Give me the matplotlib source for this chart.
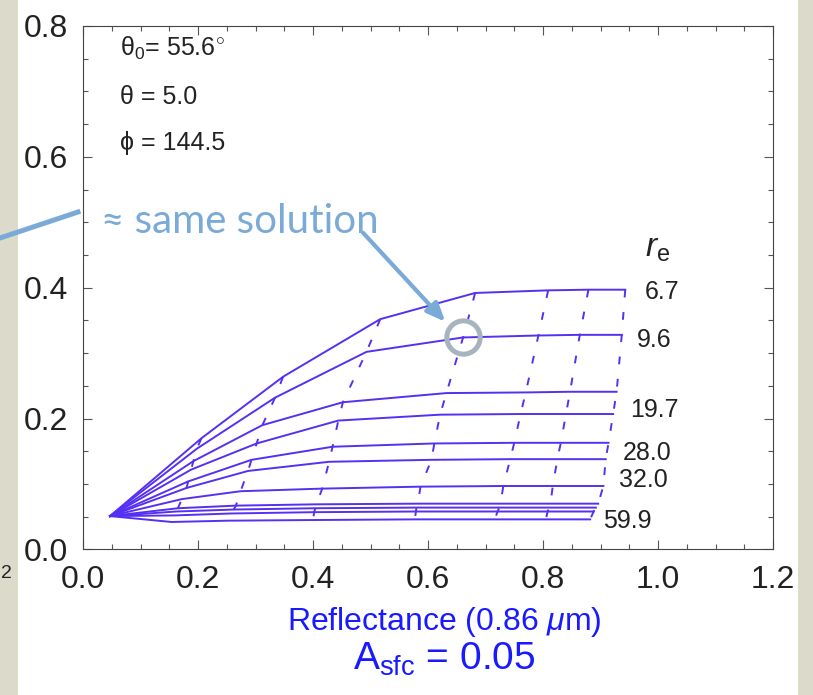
import numpy as np
import matplotlib
matplotlib.use('Agg')
import matplotlib.pyplot as plt
from matplotlib.lines import Line2D
from matplotlib.patches import Rectangle
from matplotlib.ticker import MultipleLocator

plt.rcParams['font.family'] = ['Liberation Sans', 'DejaVu Sans']
plt.rcParams['mathtext.fontset'] = 'custom'
plt.rcParams['mathtext.rm'] = 'Liberation Sans'
plt.rcParams['mathtext.it'] = 'Liberation Sans:italic'
plt.rcParams['mathtext.bf'] = 'Liberation Sans:bold'

# LUT: rows = r_e curves (small -> large), columns = optical thickness nodes
refl_086 = np.array([
    [0.047, 0.206, 0.348, 0.517, 0.682, 0.809, 0.879, 0.943],
    [0.047, 0.198, 0.334, 0.493, 0.661, 0.792, 0.864, 0.937],
    [0.047, 0.192, 0.312, 0.452, 0.632, 0.770, 0.847, 0.928],
    [0.047, 0.188, 0.302, 0.444, 0.621, 0.761, 0.840, 0.922],
    [0.047, 0.183, 0.293, 0.434, 0.611, 0.750, 0.831, 0.914],
    [0.047, 0.180, 0.287, 0.428, 0.606, 0.743, 0.825, 0.909],
    [0.047, 0.172, 0.274, 0.416, 0.587, 0.731, 0.817, 0.905],
    [0.047, 0.165, 0.266, 0.406, 0.582, 0.726, 0.813, 0.896],
    [0.047, 0.162, 0.262, 0.404, 0.580, 0.724, 0.811, 0.892],
    [0.047, 0.158, 0.258, 0.402, 0.579, 0.721, 0.808, 0.888],
    [0.047, 0.154, 0.252, 0.400, 0.577, 0.716, 0.805, 0.882],
])
refl_21 = np.array([
    [0.051, 0.170, 0.264, 0.352, 0.392, 0.396, 0.397, 0.397],
    [0.051, 0.154, 0.232, 0.302, 0.324, 0.327, 0.328, 0.328],
    [0.051, 0.135, 0.190, 0.225, 0.239, 0.240, 0.241, 0.241],
    [0.051, 0.122, 0.162, 0.197, 0.206, 0.207, 0.207, 0.207],
    [0.051, 0.104, 0.137, 0.157, 0.162, 0.163, 0.163, 0.163],
    [0.051, 0.094, 0.120, 0.134, 0.137, 0.138, 0.138, 0.138],
    [0.051, 0.077, 0.089, 0.093, 0.096, 0.097, 0.097, 0.097],
    [0.051, 0.063, 0.067, 0.069, 0.070, 0.070, 0.070, 0.070],
    [0.051, 0.058, 0.061, 0.063, 0.064, 0.064, 0.064, 0.064],
    [0.051, 0.052, 0.055, 0.057, 0.058, 0.058, 0.058, 0.058],
    [0.051, 0.042, 0.044, 0.045, 0.046, 0.046, 0.046, 0.046],
])

re_labels = ['6.7', '9.6', '19.7', '28.0', '32.0', '59.9']
re_label_rows = [0, 1, 3, 4, 6, 10]
re_label_offsets = [(14, -2), (11, -4), (12, 3), (10, -7), (11, 4), (9, -1)]

geometry = [r'θ$_0$= 55.6$^{\circ}$', 'θ = 5.0', 'ϕ = 144.5']
geometry_y = [0.958, 0.864, 0.776]

BG = '#dcdbcb'
LINE = '#5530f2'
NOTE = '#7aaad8'
BLUE = '#1a1aff'

fig = plt.figure(figsize=(8.13, 6.95), dpi=100)
fig.patch.set_facecolor(BG)
fig.add_artist(Rectangle((18 / 813, 0), 780 / 813, 1, transform=fig.transFigure,
                         facecolor='white', edgecolor='none', zorder=-10))

ax = fig.add_axes([0.1021, 0.2094, 0.8487, 0.7532])

# solid lines: constant r_e
for i in range(refl_086.shape[0]):
    ax.plot(refl_086[i], refl_21[i], color=LINE, lw=1.4)
# dashed lines: constant tau
for j in range(1, refl_086.shape[1]):
    ax.plot(refl_086[:, j], refl_21[:, j], color=LINE, lw=1.4, linestyle=(0, (4, 7.5)))

for lab, row, off in zip(re_labels, re_label_rows, re_label_offsets):
    ax.annotate(lab, xy=(refl_086[row, -1], refl_21[row, -1]), xytext=off,
                textcoords='offset points', fontsize=18, va='center', ha='left', color='#222')
ax.text(0.977, 0.460, r'$r_{\rm e}$', fontsize=24, va='center', color='#222')

for s, yy in zip(geometry, geometry_y):
    ax.text(0.054, yy, s, transform=ax.transAxes, fontsize=18, va='center', color='#222')

ax.set_xlim(0, 1.2)
ax.set_ylim(0, 0.8)
ax.xaxis.set_major_locator(MultipleLocator(0.2))
ax.xaxis.set_minor_locator(MultipleLocator(0.05))
ax.yaxis.set_major_locator(MultipleLocator(0.2))
ax.yaxis.set_minor_locator(MultipleLocator(0.05))
ax.tick_params(which='both', direction='in', top=True, right=True, color='#555', width=0.8)
ax.tick_params(which='major', length=6.5, labelsize=23, pad=11, labelcolor='#222')
ax.tick_params(which='minor', length=3.6)
for sp in ax.spines.values():
    sp.set_color('#444')
    sp.set_linewidth(0.8)

# "same solution" annotation
ax.plot(refl_086[1, 4], refl_21[1, 4], 'o', ms=24, mfc='none', mec='#a5b4bd', mew=3.6, zorder=5)
ax.annotate('', xy=(0.630, 0.348), xytext=(0.487, 0.484),
            arrowprops=dict(arrowstyle='-|>,head_length=0.7,head_width=0.3', color=NOTE,
                            lw=3, shrinkA=0, shrinkB=0, mutation_scale=16))
ax.text(0.031, 0.484, '≈ same solution', color=NOTE, fontsize=29, va='baseline',
        family=['Lato', 'DejaVu Sans'])
fig.add_artist(Line2D([0, 78 / 813], [1 - 238 / 695, 1 - 212 / 695], transform=fig.transFigure,
                      color=NOTE, lw=3.6))

fig.text(0.546, 0.0935, r'Reflectance (0.86 $\mu$m)', color=BLUE, fontsize=23, ha='center', va='baseline')
fig.text(0.546, 0.036, r'A$_{\rm sfc}$ = 0.05', color=BLUE, fontsize=28, ha='center', va='baseline')
fig.text(0.001, 1 - 578 / 695, '2', fontsize=14, color='#222')

fig.savefig('out.png', dpi=100, facecolor=BG)
